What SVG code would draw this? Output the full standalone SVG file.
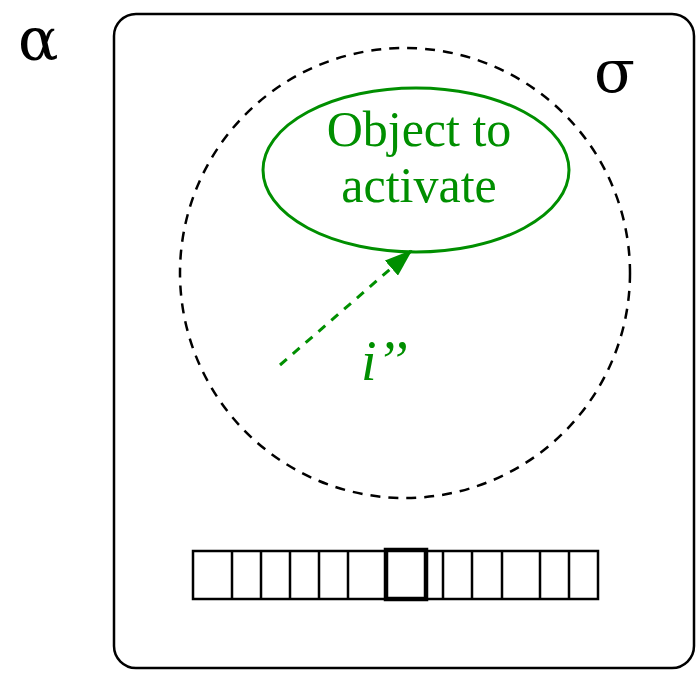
<svg xmlns="http://www.w3.org/2000/svg" width="698" height="678" viewBox="0 0 698 678">
<style>
.g{fill:none;stroke:#008f00;stroke-width:3}
.t{font-family:"Liberation Serif",serif;fill:#008f00}
.k{fill:none;stroke:#000;stroke-width:2.5}
.sym{font-family:"DejaVu Serif",serif;fill:#000}
</style>
<defs>
<marker id="ah2" markerWidth="28" markerHeight="20" refX="26" refY="10" orient="auto" markerUnits="userSpaceOnUse">
<path d="M0,0 L28,10 L0,20 z" fill="#008f00"/>
</marker>
</defs>
<g id="frame">
<rect x="114" y="14" width="580" height="654" rx="22" class="k" stroke-width="3"/>
</g>
<text x="18" y="60" class="sym" font-size="60">α</text>
<text x="594" y="92" class="sym" font-size="60">σ</text>
<g id="scope">
<circle cx="405" cy="273" r="225" fill="none" stroke="#000" stroke-width="2.5" stroke-dasharray="10,8"/>
</g>
<g id="object">
<ellipse cx="416" cy="170" rx="153" ry="82" class="g"/>
<text x="419" y="146" text-anchor="middle" class="t" font-size="50">Object to</text>
<text x="419" y="202" text-anchor="middle" class="t" font-size="50">activate</text>
</g>
<g id="tape">
<rect x="193" y="551" width="405" height="48" class="k"/>
<path d="M232,551V599M261,551V599M290,551V599M319,551V599M348,551V599M443,551V599M472,551V599M502,551V599M540,551V599M569,551V599" class="k"/>
<rect x="386" y="550" width="40" height="49" fill="#fff" stroke="#000" stroke-width="4.5"/>
</g>
<g id="connectors">
<line x1="280" y1="365" x2="411" y2="251" class="g" stroke-dasharray="9,8" marker-end="url(#ah2)"/>
<text x="361" y="380" class="t" font-size="56" font-style="italic">i’’</text>
</g>
</svg>
